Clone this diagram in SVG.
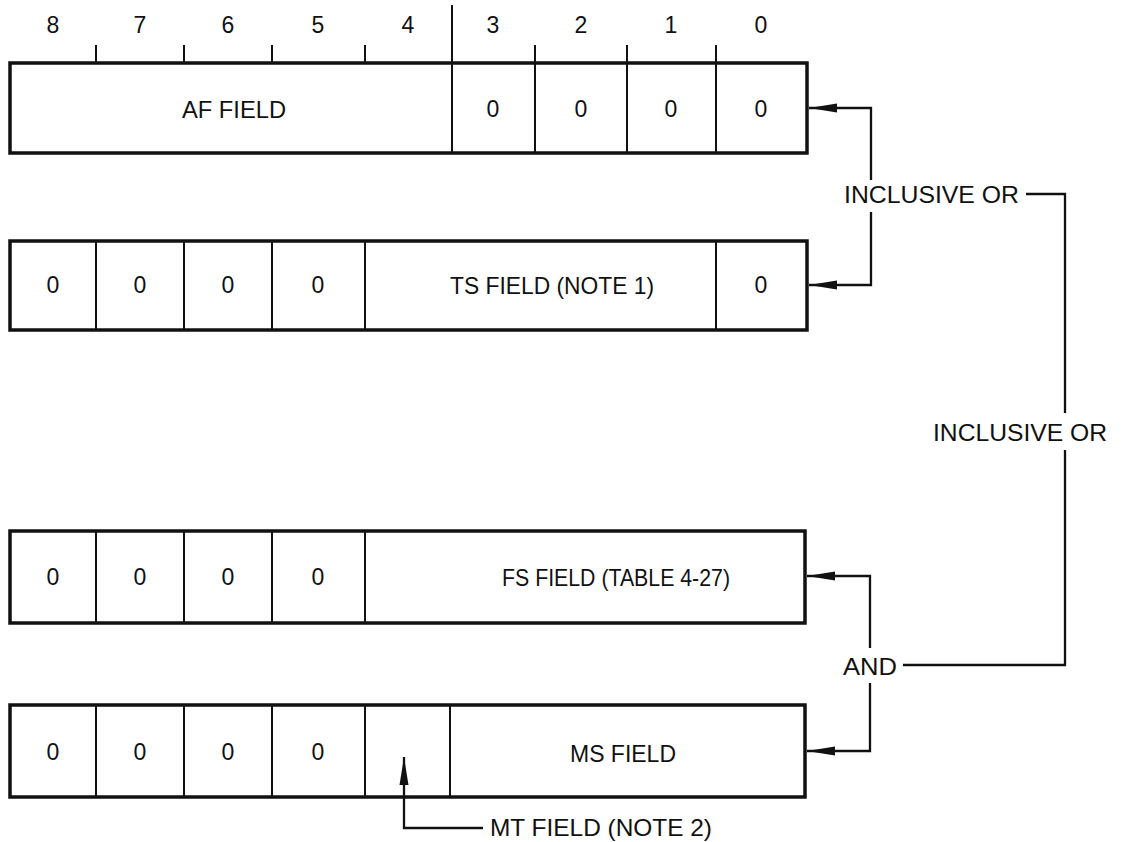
<svg xmlns="http://www.w3.org/2000/svg" width="1123" height="842" viewBox="0 0 1123 842">
<defs>
<marker id="ah" markerUnits="userSpaceOnUse" markerWidth="30" markerHeight="12" refX="28" refY="6" orient="auto"><path d="M0,1.5 L28,6 L0,10.5 z" fill="#111"/></marker>
</defs>
<style>
.box{fill:#fff;stroke:#111;stroke-width:3.5}
.dv{stroke:#111;stroke-width:2}
.t{font-family:"Liberation Sans",Arial,sans-serif;font-size:24px;fill:#111;text-anchor:middle;dominant-baseline:central}
.s{text-anchor:start}
.d{font-size:23px}
.c{fill:none;stroke:#111;stroke-width:2.3}
</style>
<rect width="1123" height="842" fill="#fff"/>

<g id="header">
<line class="dv" x1="452" y1="5" x2="452" y2="63"/>
<line class="dv" x1="96" y1="45" x2="96" y2="63"/>
<line class="dv" x1="184" y1="45" x2="184" y2="63"/>
<line class="dv" x1="272" y1="45" x2="272" y2="63"/>
<line class="dv" x1="365" y1="45" x2="365" y2="63"/>
<line class="dv" x1="535" y1="45" x2="535" y2="63"/>
<line class="dv" x1="627" y1="45" x2="627" y2="63"/>
<line class="dv" x1="716" y1="45" x2="716" y2="63"/>
<text class="t d" x="53" y="25">8</text>
<text class="t d" x="140" y="25">7</text>
<text class="t d" x="228" y="25">6</text>
<text class="t d" x="318" y="25">5</text>
<text class="t d" x="408" y="25">4</text>
<text class="t d" x="493" y="25">3</text>
<text class="t d" x="581" y="25">2</text>
<text class="t d" x="671" y="25">1</text>
<text class="t d" x="761" y="25">0</text>
</g>

<g id="row-af">
<rect class="box" x="10" y="63" width="797" height="90"/>
<line class="dv" x1="452" y1="63" x2="452" y2="153"/>
<line class="dv" x1="535" y1="63" x2="535" y2="153"/>
<line class="dv" x1="627" y1="63" x2="627" y2="153"/>
<line class="dv" x1="716" y1="63" x2="716" y2="153"/>
<text class="t" x="234" y="109" textLength="104" lengthAdjust="spacingAndGlyphs">AF FIELD</text>
<text class="t d" x="493" y="109">0</text>
<text class="t d" x="581" y="109">0</text>
<text class="t d" x="671" y="109">0</text>
<text class="t d" x="761" y="109">0</text>
</g>

<g id="row-ts">
<rect class="box" x="10" y="241" width="797" height="89"/>
<line class="dv" x1="96" y1="241" x2="96" y2="330"/>
<line class="dv" x1="184" y1="241" x2="184" y2="330"/>
<line class="dv" x1="272" y1="241" x2="272" y2="330"/>
<line class="dv" x1="365" y1="241" x2="365" y2="330"/>
<line class="dv" x1="716" y1="241" x2="716" y2="330"/>
<text class="t d" x="53" y="285">0</text>
<text class="t d" x="140" y="285">0</text>
<text class="t d" x="228" y="285">0</text>
<text class="t d" x="318" y="285">0</text>
<text class="t" x="552" y="285" textLength="204" lengthAdjust="spacingAndGlyphs">TS FIELD (NOTE 1)</text>
<text class="t d" x="761" y="285">0</text>
</g>

<g id="row-fs">
<rect class="box" x="10" y="531" width="795" height="92"/>
<line class="dv" x1="96" y1="531" x2="96" y2="623"/>
<line class="dv" x1="184" y1="531" x2="184" y2="623"/>
<line class="dv" x1="272" y1="531" x2="272" y2="623"/>
<line class="dv" x1="365" y1="531" x2="365" y2="623"/>
<text class="t d" x="53" y="577">0</text>
<text class="t d" x="140" y="577">0</text>
<text class="t d" x="228" y="577">0</text>
<text class="t d" x="318" y="577">0</text>
<text class="t" x="616" y="577" textLength="228" lengthAdjust="spacingAndGlyphs">FS FIELD (TABLE 4-27)</text>
</g>

<g id="row-ms">
<rect class="box" x="10" y="705" width="795" height="92"/>
<line class="dv" x1="96" y1="705" x2="96" y2="797"/>
<line class="dv" x1="184" y1="705" x2="184" y2="797"/>
<line class="dv" x1="272" y1="705" x2="272" y2="797"/>
<line class="dv" x1="365" y1="705" x2="365" y2="797"/>
<line class="dv" x1="450" y1="705" x2="450" y2="797"/>
<text class="t d" x="53" y="752">0</text>
<text class="t d" x="140" y="752">0</text>
<text class="t d" x="228" y="752">0</text>
<text class="t d" x="318" y="752">0</text>
<text class="t" x="623" y="753" textLength="106" lengthAdjust="spacingAndGlyphs">MS FIELD</text>
</g>

<g id="op-or-1"><text class="t s" x="844" y="194" textLength="175" lengthAdjust="spacingAndGlyphs">INCLUSIVE OR</text></g>
<g id="op-or-2"><text class="t s" x="933" y="432" textLength="174" lengthAdjust="spacingAndGlyphs">INCLUSIVE OR</text></g>
<g id="op-and"><text class="t" x="870" y="666" textLength="54" lengthAdjust="spacingAndGlyphs">AND</text></g>
<g id="note-mt"><text class="t s" x="490" y="827" textLength="222" lengthAdjust="spacingAndGlyphs">MT FIELD (NOTE 2)</text></g>

<g id="connectors">
<path class="c" d="M871,180 L871,108 L809,108" marker-end="url(#ah)"/>
<path class="c" d="M871,212 L871,285 L809,285" marker-end="url(#ah)"/>
<path class="c" d="M1026,194 L1065,194 L1065,413"/>
<path class="c" d="M1065,450 L1065,665 L903,665"/>
<path class="c" d="M870,648 L870,576 L807,576" marker-end="url(#ah)"/>
<path class="c" d="M870,683 L870,751 L807,751" marker-end="url(#ah)"/>
<path class="c" d="M483,828 L404,828 L404,757" marker-end="url(#ah)"/>
</g>
</svg>
